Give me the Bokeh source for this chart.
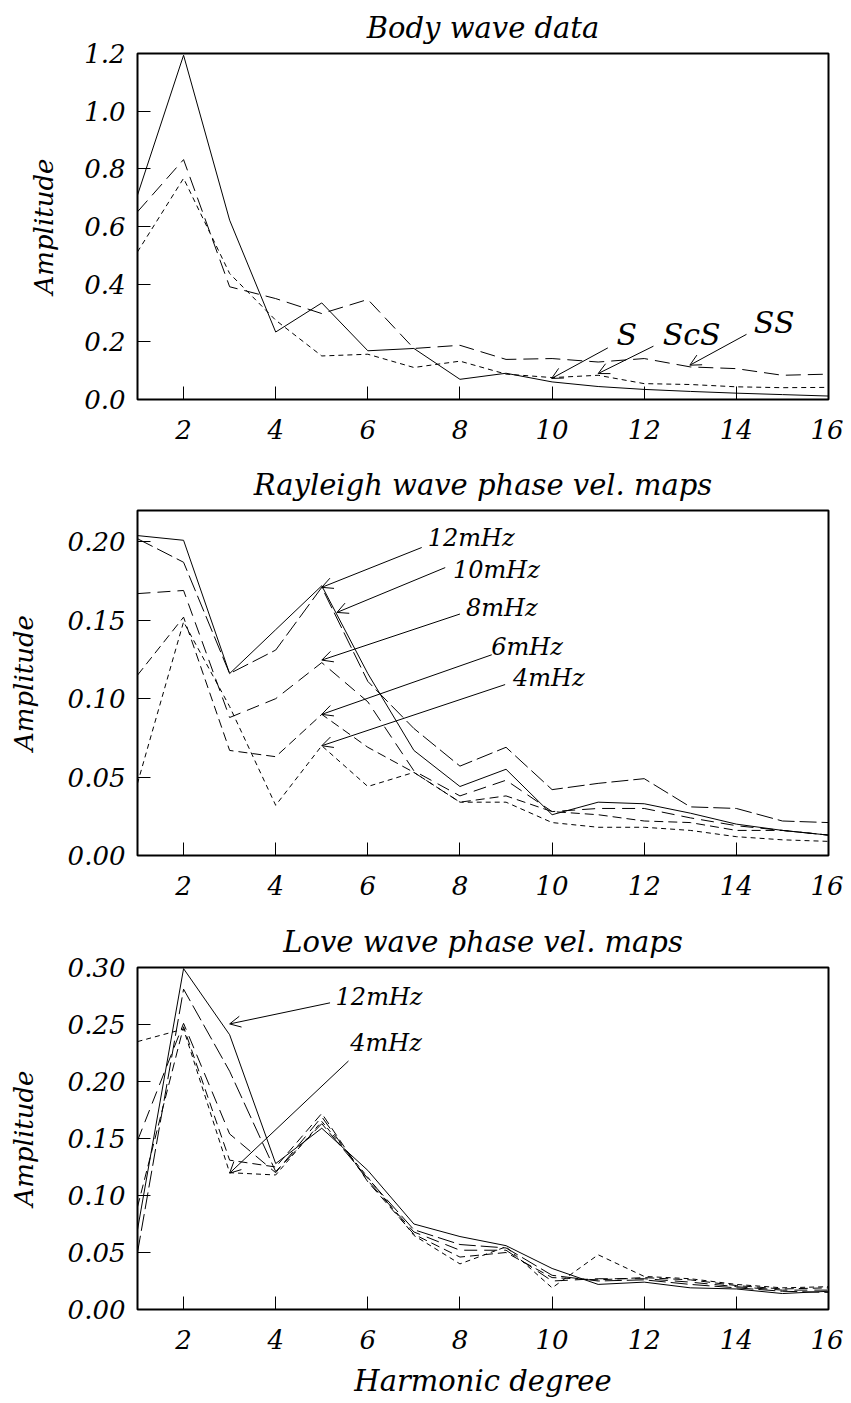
from bokeh.plotting import figure
from bokeh.layouts import column
from bokeh.models import Range1d, FixedTicker, PrintfTickFormatter, Arrow, OpenHead, Label
from bokeh.embed import file_html
from bokeh.resources import INLINE

# ---------------- data ----------------
degrees = list(range(1, 17))

body_S = [0.709, 1.194, 0.622, 0.234, 0.335, 0.169, 0.177, 0.070, 0.091, 0.061, 0.045, 0.035, 0.028, 0.022, 0.017, 0.012]
body_ScS = [0.512, 0.767, 0.437, 0.275, 0.151, 0.157, 0.111, 0.133, 0.088, 0.076, 0.084, 0.055, 0.052, 0.044, 0.041, 0.042]
body_SS = [0.651, 0.832, 0.391, 0.350, 0.298, 0.347, 0.177, 0.188, 0.139, 0.142, 0.130, 0.142, 0.113, 0.107, 0.084, 0.088]

ray_12 = [0.204, 0.201, 0.116, 0.144, 0.172, 0.116, 0.067, 0.044, 0.055, 0.026, 0.034, 0.033, 0.027, 0.020, 0.016, 0.013]
ray_10 = [0.202, 0.187, 0.116, 0.131, 0.171, 0.111, 0.081, 0.057, 0.069, 0.042, 0.046, 0.049, 0.031, 0.030, 0.022, 0.021]
ray_8 = [0.167, 0.169, 0.088, 0.100, 0.123, 0.098, 0.054, 0.038, 0.048, 0.028, 0.030, 0.030, 0.024, 0.019, 0.016, 0.013]
ray_6 = [0.115, 0.152, 0.067, 0.063, 0.090, 0.069, 0.053, 0.034, 0.038, 0.028, 0.026, 0.022, 0.021, 0.016, 0.016, 0.013]
ray_4 = [0.046, 0.149, 0.095, 0.032, 0.070, 0.044, 0.053, 0.034, 0.034, 0.021, 0.018, 0.018, 0.016, 0.012, 0.010, 0.009]

love_12 = [0.070, 0.299, 0.241, 0.128, 0.159, 0.122, 0.075, 0.064, 0.056, 0.036, 0.022, 0.024, 0.019, 0.018, 0.014, 0.016]
love_10 = [0.050, 0.281, 0.209, 0.121, 0.163, 0.115, 0.070, 0.057, 0.054, 0.030, 0.025, 0.026, 0.022, 0.019, 0.016, 0.015]
love_8 = [0.148, 0.251, 0.154, 0.120, 0.169, 0.113, 0.068, 0.052, 0.052, 0.025, 0.027, 0.027, 0.024, 0.020, 0.017, 0.017]
love_6 = [0.090, 0.248, 0.131, 0.125, 0.172, 0.112, 0.066, 0.046, 0.050, 0.028, 0.026, 0.028, 0.026, 0.021, 0.018, 0.019]
love_4 = [0.235, 0.246, 0.120, 0.118, 0.165, 0.116, 0.065, 0.040, 0.055, 0.019, 0.048, 0.029, 0.027, 0.022, 0.019, 0.020]

x_ticks = [2, 4, 6, 8, 10, 12, 14, 16]
body_yticks = [0.0, 0.2, 0.4, 0.6, 0.8, 1.0, 1.2]
ray_yticks = [0.0, 0.05, 0.10, 0.15, 0.20]
love_yticks = [0.0, 0.05, 0.10, 0.15, 0.20, 0.25, 0.30]

titles = ["Body wave data", "Rayleigh wave phase vel. maps", "Love wave phase vel. maps"]
y_title = "Amplitude"
x_title = "Harmonic degree"

FONT = "DejaVu Serif"


def make_fig(title, height, btop, bbottom, y_end, y_ticks, fmt, lab_standoff, xlabel=None):
    p = figure(width=843, height=height, x_range=Range1d(1, 16), y_range=Range1d(0, y_end),
               output_backend="svg", toolbar_location=None,
               min_border_left=137, min_border_right=15,
               min_border_top=btop, min_border_bottom=bbottom, title=title)
    p.title.align = "center"
    p.title.text_font = FONT
    p.title.text_font_style = "italic"
    p.title.text_font_size = "29px"
    p.title.text_color = "black"
    p.title.standoff = 17
    p.xgrid.visible = False
    p.ygrid.visible = False
    p.outline_line_color = "black"
    p.outline_line_width = 2
    p.background_fill_color = "white"
    p.border_fill_color = "white"
    p.xaxis.ticker = FixedTicker(ticks=x_ticks)
    p.yaxis.ticker = FixedTicker(ticks=y_ticks)
    p.yaxis.formatter = PrintfTickFormatter(format=fmt)
    for ax in (p.xaxis[0], p.yaxis[0]):
        ax.axis_line_color = None
        ax.major_tick_in = 13
        ax.major_tick_out = 0
        ax.major_tick_line_color = "black"
        ax.major_tick_line_width = 1
        ax.minor_tick_line_color = None
        ax.major_label_text_font = FONT
        ax.major_label_text_font_style = "italic"
        ax.major_label_text_font_size = "26px"
        ax.major_label_text_color = "black"
        ax.axis_label_text_font = FONT
        ax.axis_label_text_font_style = "italic"
        ax.axis_label_text_font_size = "26px"
        ax.axis_label_text_color = "black"
    p.xaxis.major_label_standoff = 20
    p.yaxis.major_label_standoff = 12
    p.yaxis.axis_label = y_title
    p.yaxis.axis_label_standoff = lab_standoff
    if xlabel:
        p.xaxis.axis_label = xlabel
        p.xaxis.axis_label_standoff = 12
        p.xaxis.axis_label_text_font_size = "29px"
        p.xaxis.axis_label_text_line_height = 0.7
    return p


def arrow(p, x0, y0, x1, y1):
    p.add_layout(Arrow(end=OpenHead(size=11, line_width=1, line_color="black"),
                       x_start=x0, y_start=y0, x_end=x1, y_end=y1,
                       line_width=1, line_color="black"))


def label(p, x, y, text, size):
    p.add_layout(Label(x=x, y=y, text=text, text_font=FONT, text_font_style="italic",
                       text_font_size=size, text_color="black", text_align="left",
                       text_baseline="alphabetic"))


# ---------------- panel 1 ----------------
p1 = make_fig(titles[0], 455, 53, 56, 1.2, body_yticks, "%.1f", 22)
p1.line(degrees, body_S, line_color="black", line_width=1)
p1.line(degrees, body_ScS, line_color="black", line_width=1, line_dash="5 4")
p1.line(degrees, body_SS, line_color="black", line_width=1, line_dash="15 7")
arrow(p1, 11.21, 0.179, 9.99, 0.073)
arrow(p1, 12.20, 0.185, 11.0, 0.090)
arrow(p1, 14.22, 0.226, 12.99, 0.119)
label(p1, 11.40, 0.226, "S", "30px")
label(p1, 12.40, 0.226, "ScS", "30px")
label(p1, 14.38, 0.267, "SS", "30px")

# ---------------- panel 2 ----------------
p2 = make_fig(titles[1], 457, 55, 57, 0.22, ray_yticks, "%.2f", 26)
p2.line(degrees, ray_12, line_color="black", line_width=1)
p2.line(degrees, ray_10, line_color="black", line_width=1, line_dash="17 5")
p2.line(degrees, ray_8, line_color="black", line_width=1, line_dash="13 7")
p2.line(degrees, ray_6, line_color="black", line_width=1, line_dash="9 5")
p2.line(degrees, ray_4, line_color="black", line_width=1, line_dash="5 4")
arrow(p2, 7.17, 0.1964, 5.0, 0.171)
arrow(p2, 7.68, 0.1836, 5.33, 0.155)
arrow(p2, 8.00, 0.154, 5.0, 0.1246)
arrow(p2, 8.69, 0.128, 5.0, 0.090)
arrow(p2, 8.98, 0.109, 5.0, 0.070)
label(p2, 7.30, 0.2025, "12mHz", "24px")
label(p2, 7.85, 0.1821, "10mHz", "24px")
label(p2, 8.13, 0.1579, "8mHz", "24px")
label(p2, 8.68, 0.1331, "6mHz", "24px")
label(p2, 9.15, 0.1134, "4mHz", "24px")

# ---------------- panel 3 ----------------
p3 = make_fig(titles[2], 488, 55, 89, 0.30, love_yticks, "%.2f", 26, xlabel=x_title)
p3.line(degrees, love_12, line_color="black", line_width=1)
p3.line(degrees, love_10, line_color="black", line_width=1, line_dash="17 5")
p3.line(degrees, love_8, line_color="black", line_width=1, line_dash="13 7")
p3.line(degrees, love_6, line_color="black", line_width=1, line_dash="9 5")
p3.line(degrees, love_4, line_color="black", line_width=1, line_dash="5 4")
arrow(p3, 5.18, 0.269, 3.0, 0.2505)
arrow(p3, 5.58, 0.218, 3.0, 0.1196)
label(p3, 5.30, 0.2737, "12mHz", "24px")
label(p3, 5.62, 0.2337, "4mHz", "24px")

layout = column(p1, p2, p3, spacing=0)
open("out.html", "w").write(file_html(layout, INLINE))
